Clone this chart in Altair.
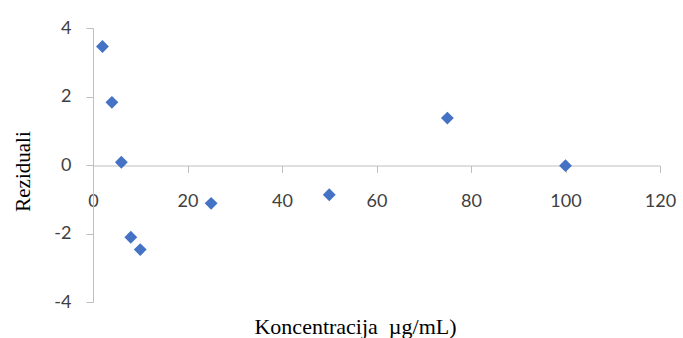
import altair as alt
import pandas as pd

# Residuals of the calibration fit against concentration
koncentracija = [2, 4, 6, 8, 10, 25, 50, 75, 100]
reziduali = [3.46, 1.83, 0.08, -2.11, -2.47, -1.12, -0.87, 1.37, -0.02]

x_ticks = [0, 20, 40, 60, 80, 100, 120]
y_ticks = [-4, -2, 0, 2, 4]

df = pd.DataFrame({"x": koncentracija, "y": reziduali})

W, H = 567, 274
axis_grey = "#BFBFBF"
label_grey = "#404040"

points = alt.Chart(df).mark_point(
    shape="diamond", filled=True, size=165, color="#4472C4", opacity=1
).encode(
    x=alt.X(
        "x:Q",
        scale=alt.Scale(domain=[0, 120], nice=False, zero=False),
        axis=alt.Axis(
            values=x_ticks,
            labelExpr="datum.value",
            labelFlush=False,
            offset=-136.5,
            grid=False,
            domainColor=axis_grey,
            tickColor=axis_grey,
            tickSize=7,
            labelPadding=20,
            labelFont="Lato",
            labelFontSize=18,
            labelColor=label_grey,
            title="Koncentracija \u00a0\u00b5g/mL)",
            titleFont="Liberation Serif",
            titleFontSize=22,
            titleFontWeight="normal",
            titleColor="#000000",
            titleX=262,
            titleY=167.5,
            titleAlign="center",
            titleBaseline="alphabetic",
        ),
    ),
    y=alt.Y(
        "y:Q",
        scale=alt.Scale(domain=[-4, 4], nice=False, zero=False),
        axis=alt.Axis(
            values=y_ticks,
            labelExpr="datum.value",
            labelFlush=False,
            grid=False,
            domainColor=axis_grey,
            tickColor=axis_grey,
            tickSize=7,
            labelPadding=15,
            labelFont="Lato",
            labelFontSize=18,
            labelColor=label_grey,
            title="Reziduali",
            titleFont="Liberation Serif",
            titleFontSize=21,
            titleFontWeight="normal",
            titleColor="#000000",
            titleAngle=270,
            titleX=-64,
            titleY=143,
            titleAlign="center",
            titleBaseline="alphabetic",
        ),
    ),
).properties(
    width=W,
    height=H,
    autosize=alt.AutoSizeParams(type="none"),
    padding={"left": 93, "top": 28, "right": 23, "bottom": 36},
)

chart = points.configure(background="white").configure_view(strokeWidth=0, stroke=None)
chart.save("out.html", embed_options={"renderer": "svg", "actions": False})
